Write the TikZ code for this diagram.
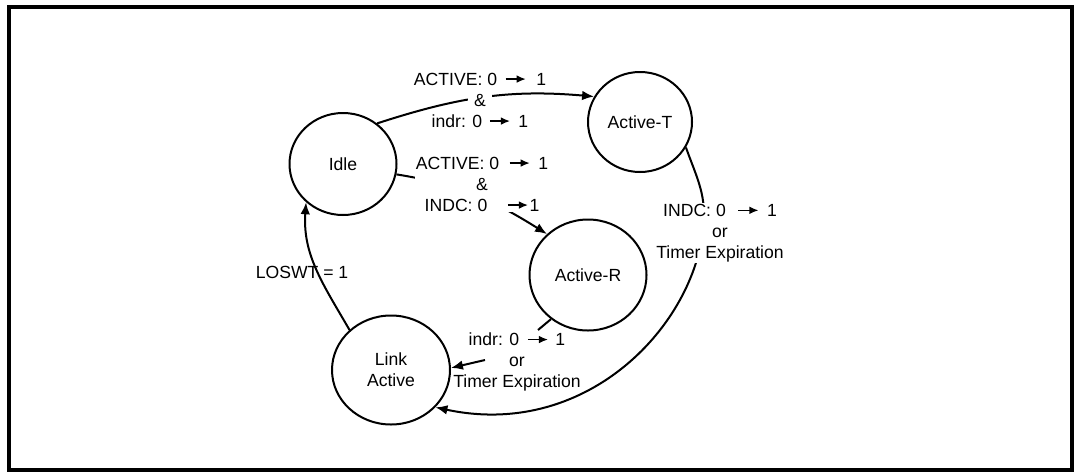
\documentclass[tikz,border=0pt]{standalone}
\usepackage{fontspec}
\setmainfont{Liberation Sans}
\usetikzlibrary{arrows.meta,shapes.geometric}
\newcommand\arrowglyph{\tikz[baseline=-3pt]\draw[line width=0.6pt,-{Latex[length=4.5pt,width=3.8pt]}] (0,0)--(10pt,0);}
\begin{document}
\begin{tikzpicture}[x=0.5pt,y=0.5pt,
  every node/.style={font=\fontsize{8.8pt}{10.5pt}\selectfont},
  stnode/.style={draw,ellipse,line width=1pt,inner sep=0pt,align=center},
  lab/.style={align=center,inner sep=0.5pt},
  conn/.style={line width=1pt,-{Latex[length=6pt,width=4.8pt]}},
  connplain/.style={line width=1pt}]
\useasboundingbox (0,0) rectangle (1074,-471);
\draw[line width=2pt] (8.5,-7) rectangle (1072,-470);

% states
\node[stnode,minimum width=53.5pt,minimum height=51pt] (idle) at (343,-164) {Idle};
\node[stnode,minimum width=52pt,minimum height=50pt] (at) at (640,-122) {Active-T};
\node[stnode,minimum width=58.5pt,minimum height=55.5pt] (ar) at (588,-275) {Active-R};
\node[stnode,minimum width=59pt,minimum height=54.5pt] (la) at (391,-370) {Link\\Active};

% connectors
\draw[conn] (idle.50) to[out=18,in=175] (at.151);
\draw[conn] (idle.349) to[out=-9,in=148] (ar.135);
\draw[conn] (at.331) .. controls (697.5,-179.7) and (707.3,-196.2) .. (703,-231)
  .. controls (690.8,-330.3) and (583.7,-439.2) .. (la.320);
\coordinate (r1) at (538,-330);
\coordinate (r2) at (485,-360);
\draw[connplain] (ar.230) -- (r1);
\draw[conn] (r2) -- (la.2);
\draw[conn] (la.136) to[out=120,in=266] (idle.226);

% labels
\node[lab] (l1) at (480,-100) {ACTIVE: 0\hspace{4pt}\arrowglyph\hspace{5pt}1\\{\setlength\fboxsep{3pt}\colorbox{white}{\&}}\\indr: 0\hspace{3.5pt}\arrowglyph\hspace{4pt}1};
\node[lab,fill=white] (l2) at (482,-184) {ACTIVE: 0\hspace{5pt}\arrowglyph\hspace{4pt}1\\\&\\INDC: 0\hspace{10pt}\arrowglyph\hspace{0.5pt}1};
\node[lab,fill=white] (l3) at (720,-233) {INDC: 0\hspace{6pt}\arrowglyph\hspace{4pt}1\\or\\Timer Expiration};
\node[lab] (l4) at (517,-362) {indr: 0\hspace{4pt}\arrowglyph\hspace{3.5pt}1\\or\\Timer Expiration};
\node[lab] (l5) at (302,-272) {LOSWT = 1};
\end{tikzpicture}
\end{document}
